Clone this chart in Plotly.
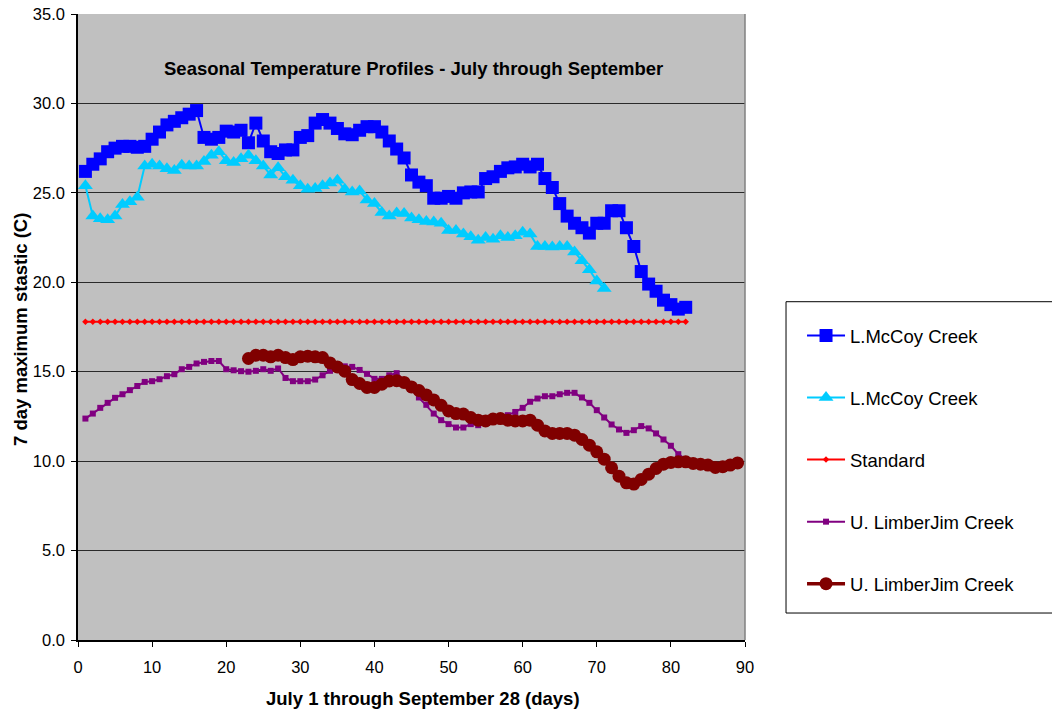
import plotly.graph_objects as go

# ---------------- data ----------------
mccoy_days = list(range(1, 83))
mccoy_a = [26.2, 26.6, 26.9, 27.3, 27.5, 27.6, 27.6, 27.55, 27.6, 28.0,
           28.4, 28.8, 29.0, 29.2, 29.4, 29.6, 28.1, 28.0, 28.1, 28.45,
           28.4, 28.5, 27.8, 28.9, 27.9, 27.3, 27.2, 27.4, 27.4, 28.1,
           28.2, 28.9, 29.1, 28.9, 28.6, 28.3, 28.25, 28.5, 28.7, 28.7,
           28.4, 27.9, 27.45, 26.95, 26.0, 25.6, 25.4, 24.7, 24.7, 24.8,
           24.7, 25.0, 25.05, 25.05, 25.8, 25.9, 26.2, 26.4, 26.45, 26.6,
           26.45, 26.6, 25.8, 25.3, 24.4, 23.7, 23.3, 23.05, 22.75, 23.3,
           23.3, 24.0, 24.0, 23.05, 22.0, 20.6, 19.9, 19.5, 19.0, 18.75,
           18.5, 18.6]

mccoy_b_days = list(range(1, 72))
mccoy_b = [25.4, 23.7, 23.55, 23.5, 23.7, 24.35, 24.5, 24.75, 26.5, 26.6,
           26.5, 26.35, 26.25, 26.55, 26.5, 26.5, 26.75, 27.1, 27.3, 26.8,
           26.7, 26.9, 27.1, 26.8, 26.5, 26.0, 26.4, 25.9, 25.7, 25.4,
           25.2, 25.25, 25.4, 25.55, 25.7, 25.2, 25.05, 25.1, 24.6, 24.4,
           23.9, 23.7, 23.87, 23.84, 23.6, 23.5, 23.4, 23.37, 23.3, 22.9,
           22.9, 22.7, 22.55, 22.35, 22.5, 22.4, 22.6, 22.5, 22.6, 22.8,
           22.7, 22.0, 22.0, 21.97, 22.0, 22.0, 21.7, 21.2, 20.7, 20.07,
           19.65]

standard_days = list(range(1, 83))
standard_value = 17.8
standard = [standard_value] * len(standard_days)

limber_a_days = list(range(1, 83))
limber_a = [12.38, 12.66, 12.98, 13.26, 13.54, 13.74, 13.97, 14.2, 14.43, 14.47,
            14.58, 14.75, 14.86, 15.14, 15.27, 15.46, 15.55, 15.6, 15.6, 15.14,
            15.08, 15.03, 15.0, 15.05, 15.14, 15.05, 15.18, 14.65, 14.47, 14.47,
            14.47, 14.56, 14.8, 15.05, 15.2, 15.3, 15.27, 15.1, 14.88, 14.6,
            14.6, 14.8, 14.92, 14.5, 14.0, 13.56, 13.15, 12.66, 12.29, 12.07,
            11.88, 11.88, 12.07, 12.01, 12.2, 12.35, 12.44, 12.57, 12.75, 12.98,
            13.32, 13.5, 13.63, 13.63, 13.74, 13.82, 13.82, 13.56, 13.26, 12.85,
            12.44, 12.05, 11.77, 11.58, 11.73, 11.96, 11.83, 11.55, 11.21, 10.86,
            10.39, 10.1]

limber_b_days = list(range(23, 90))
limber_b = [15.74, 15.92, 15.92, 15.83, 15.92, 15.79, 15.68, 15.83, 15.87, 15.83,
            15.79, 15.49, 15.27, 15.03, 14.56, 14.34, 14.12, 14.12, 14.3, 14.48,
            14.5, 14.4, 14.15, 13.95, 13.7, 13.42, 13.12, 12.81, 12.66, 12.63,
            12.44, 12.29, 12.25, 12.35, 12.38, 12.29, 12.25, 12.25, 12.29, 12.01,
            11.69, 11.55, 11.55, 11.55, 11.45, 11.21, 10.89, 10.52, 10.11, 9.63,
            9.16, 8.79, 8.72, 8.98, 9.27, 9.59, 9.83, 9.93, 9.96, 9.96,
            9.87, 9.83, 9.78, 9.65, 9.69, 9.78, 9.9]

series_names = ["L.McCoy Creek", "L.McCoy Creek", "Standard",
                "U. LimberJim Creek", "U. LimberJim Creek"]
x_ticks = [0, 10, 20, 30, 40, 50, 60, 70, 80, 90]
y_ticks = [0, 5, 10, 15, 20, 25, 30, 35]

chart_title = "Seasonal Temperature Profiles - July through September"
x_title = "July 1 through September 28 (days)"
y_title = "7 day maximum stastic (C)"

FONT = "Liberation Sans, Arial, sans-serif"

# ---------------- figure ----------------
fig = go.Figure()

fig.add_trace(go.Scatter(
    x=mccoy_days, y=mccoy_a, name=series_names[0], legendgroup="g1",
    mode="lines+markers", line=dict(color="#0000FF", width=2),
    marker=dict(symbol="square", size=13, color="#0000FF")))
fig.add_trace(go.Scatter(
    x=mccoy_b_days, y=mccoy_b, name=series_names[1], legendgroup="g2",
    mode="lines+markers", line=dict(color="#00CCFF", width=2),
    marker=dict(symbol="triangle-up", size=13, color="#00CCFF")))
fig.add_trace(go.Scatter(
    x=standard_days, y=standard, name=series_names[2], legendgroup="g3",
    mode="lines+markers", line=dict(color="#FF0000", width=2),
    marker=dict(symbol="diamond", size=5, color="#FF0000")))
fig.add_trace(go.Scatter(
    x=limber_a_days, y=limber_a, name=series_names[3], legendgroup="g4",
    mode="lines+markers", line=dict(color="#800080", width=2),
    marker=dict(symbol="square", size=6, color="#800080")))
fig.add_trace(go.Scatter(
    x=limber_b_days, y=limber_b, name=series_names[4], legendgroup="g5",
    mode="lines+markers", line=dict(color="#800000", width=3.5),
    marker=dict(symbol="circle", size=13, color="#800000")))

fig.update_layout(
    width=1052, height=711,
    margin=dict(l=78, r=307, t=14, b=71),
    paper_bgcolor="white", plot_bgcolor="#C0C0C0",
    font=dict(family=FONT, color="black", size=16.5),
    showlegend=True,
    legend=dict(
        x=1.0855, y=0.516, xanchor="left", yanchor="top",
        bgcolor="rgba(0,0,0,0)", borderwidth=0,
        font=dict(family=FONT, size=18.5, color="black"),
        itemwidth=38, tracegroupgap=35, traceorder="grouped",
    ),
    xaxis=dict(
        range=[0, 90], tickvals=x_ticks, ticks="outside", ticklen=5,
        tickcolor="black", showline=True, linecolor="black", linewidth=1.5,
        showgrid=False, zeroline=False, automargin=False,
        tickfont=dict(family=FONT, size=16.5, color="black"),
        ticklabelstandoff=6,
    ),
    yaxis=dict(
        range=[0, 35], tickvals=y_ticks, tickformat=".1f", ticks="outside",
        ticklen=5, tickcolor="black", showline=True, linecolor="black",
        linewidth=1.5, showgrid=True, gridcolor="#2a2a2a", gridwidth=1,
        zeroline=False, automargin=False,
        tickfont=dict(family=FONT, size=16.5, color="black"),
        ticklabelstandoff=3,
    ),
    shapes=[
        # right border of plot area
        dict(type="line", xref="paper", yref="paper", x0=1, x1=1, y0=0, y1=1,
             line=dict(color="#808080", width=1.5)),
        # legend frame
        dict(type="rect", xref="paper", yref="paper",
             x0=1.0615, x1=1.48, y0=0.0431, y1=0.5404,
             line=dict(color="black", width=1), fillcolor="white", layer="below"),
    ],
    annotations=[
        dict(text="<b>" + chart_title + "</b>", xref="paper", yref="paper",
             x=0.5037, y=0.9137, xanchor="center", yanchor="middle",
             showarrow=False, font=dict(family=FONT, size=18.5, color="black")),
        dict(text="<b>" + x_title + "</b>", xref="paper", yref="paper",
             x=0.5165, y=-0.0927, xanchor="center", yanchor="middle",
             showarrow=False, font=dict(family=FONT, size=18.5, color="black")),
        dict(text="<b>" + y_title + "</b>", xref="paper", yref="paper",
             x=-0.0862, y=0.496, xanchor="center", yanchor="middle",
             textangle=-90, showarrow=False,
             font=dict(family=FONT, size=18.5, color="black")),
    ],
)

fig.write_html("out.html")
